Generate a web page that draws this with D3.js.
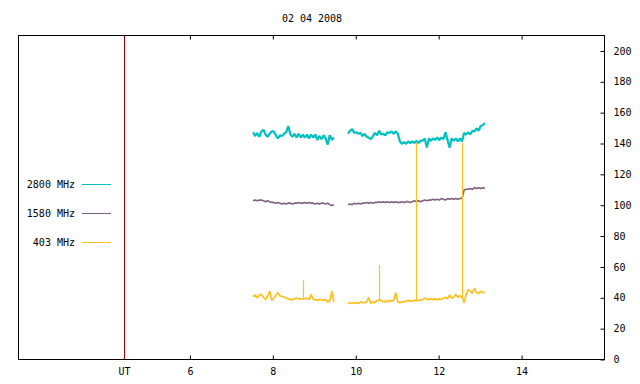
<!DOCTYPE html>
<html>
<head>
<meta charset="utf-8">
<script src="https://cdn.jsdelivr.net/npm/d3@7"></script>
<style>
  html, body { margin: 0; padding: 0; background: #fff; }
  svg { display: block; }
  text { font-family: "DejaVu Sans Mono", monospace; font-size: 10px; fill: #000; }
</style>
</head>
<body>
<svg id="chart" width="640" height="384"></svg>
<script>
// ---------------- data ----------------
const title = "02 04 2008";
const xTicks = [6, 8, 10, 12, 14];
const utMarkHour = 4.42;
const yTicks = [0, 20, 40, 60, 80, 100, 120, 140, 160, 180, 200];
const seriesNames = ["2800 MHz", "1580 MHz", "403 MHz"];
const seriesColors = ["#00c0c0", "#7f6080", "#ffc020"];

// sampling grid (hours UT)
const seg1Start = 7.535, seg2Start = 9.826, sampleStepHr = 0.05;

const f2800a = [147,144.5,146.5,144,147.5,148.5,145.5,144,146,147.5,
  147.5,145,143,145,144.5,146,147,151,145.5,144,
  146,143.5,146,143.5,145.5,143.5,145.5,143,145.5,143.5,
  145.5,142,144.5,142.5,145,143,139,145,142,143.5];
const f2800b = [146,148,149,146.5,147,146,146.5,144.5,146,144,
  143.5,142.5,144.5,146.5,145,148,145.5,146,145,147,
  146.5,147.5,146,147.5,146,141,139.5,140.5,139.5,141,
  140,141,140,141.5,140,141.5,141.5,143,137,143,
  141.5,143,142,143.5,142,143.5,142.5,147,142,137,
  143,141.5,143,141,143,141,146.5,145.5,147,145.5,
  148,147.5,149.5,148,151,151.5,153];

const f1580a = [102.5,103,102.5,103,103,102.5,102,102.5,102,101.5,
  101.5,101,101.5,101,100.5,101,100.5,101,101,100.5,
  101,101,101.5,101,101,101.5,101,101.5,101,101,
  100.5,101,100.5,101,101,100.5,101,100,99.5,100];
const f1580b = [100,100.5,100,101,100.5,101,100.5,101,101,101.5,
  101,101.5,101,101.5,101.5,102,101.5,102,101.5,102,
  101.5,102,101.5,102,101.5,101.5,102,101.5,102,102,
  101.5,102,102.5,102,102.5,102,102.5,103,102.5,103,
  103,103.5,103,103.5,103,104,103.5,103,104,103.5,
  104,103.5,104,103.5,104,104,109.5,110,110,110.5,
  110,111,110.5,111,110.5,111,110.5];

const f403a = [40.5,41.5,39.5,41.5,42,40,38.5,40.5,44,38,
  39.5,41.5,43,41,40.5,40,39.5,39,38.5,38.5,
  39,39.5,39,39,39,39,39.5,38.5,42,38.5,
  38.5,38,38.5,38.5,38,38.5,37,37.5,44,37];
const f403b = [36.5,36,36.5,36,36.5,36,37,36.5,36.5,37,
  40,36,37,36.5,38,38,38,37,37.5,37,
  38,37.5,38,43,37,36.5,37,37,37.5,38,
  37.5,37.5,38,38,38,38,38.5,39.5,39,38.5,
  39,38.5,39,38.5,39,38.5,39.5,40,39,41.5,
  39.5,40,42,40,41,40,36.5,42,45,44,
  42.5,46,43,42.5,44,43,43];

// 403 MHz isolated spikes (hour, base, peak)
const spike403Hours = [8.735, 10.575, 11.476, 12.576];
const spike403Base  = [39, 38, 38, 40];
const spike403Peak  = [51, 61, 140, 140];

// ---------------- chart ----------------
const svg = d3.select("#chart");
const L = 18, R = 604, T = 35, B = 359;

const x = d3.scaleLinear().domain([1.865, 16]).range([L, R]);
const y = d3.scaleLinear().domain([0, 210]).range([B, T]);

function seg(values, start) {
  return values.map((v, i) => ({ t: start + i * sampleStepHr, v }));
}
const series = [
  [seg(f2800a, seg1Start), seg(f2800b, seg2Start)],
  [seg(f1580a, seg1Start), seg(f1580b, seg2Start)],
  [seg(f403a, seg1Start), seg(f403b, seg2Start)]
];
const widths = [2.2, 1.6, 1.7];

const line = d3.line().x(d => x(d.t)).y(d => y(d.v));

// title
svg.append("text").attr("x", 312).attr("y", 18).attr("text-anchor", "middle")
  .attr("dominant-baseline", "central").text(title);

// data lines
series.forEach((segs, k) => {
  segs.forEach(s => {
    svg.append("path").datum(s).attr("d", line)
      .attr("fill", "none").attr("stroke", seriesColors[k])
      .attr("stroke-width", widths[k]).attr("stroke-linejoin", "bevel");
  });
});

// 403 spikes
svg.append("g").selectAll("line").data(spike403Hours).join("line")
  .attr("x1", d => Math.round(x(d)) + 0.5).attr("x2", d => Math.round(x(d)) + 0.5)
  .attr("y1", (d, i) => y(spike403Base[i])).attr("y2", (d, i) => y(spike403Peak[i]))
  .attr("stroke", seriesColors[2]).attr("stroke-width", 1.2);

// UT red marker
svg.append("line").attr("x1", Math.round(x(utMarkHour)) + 0.5).attr("x2", Math.round(x(utMarkHour)) + 0.5)
  .attr("y1", T).attr("y2", B).attr("stroke", "#a00000").attr("stroke-width", 1);

// frame
svg.append("rect").attr("x", L + 0.5).attr("y", T + 0.5).attr("width", R - L).attr("height", B - T)
  .attr("fill", "none").attr("stroke", "#000").attr("stroke-width", 1);

// bottom axis
const gB = svg.append("g").attr("transform", `translate(0.5,${B + 0.5})`)
  .call(d3.axisBottom(x).tickValues(xTicks).tickSize(-4).tickFormat(d3.format("d")).tickPadding(8));
gB.select(".domain").remove();
gB.selectAll(".tick line").attr("stroke", "#000");
gB.selectAll(".tick text").style("font-family", "DejaVu Sans Mono, monospace").style("font-size", "10px");
svg.append("text").attr("x", x(utMarkHour) + 0.5).attr("y", B + 12).attr("text-anchor", "middle")
  .attr("dominant-baseline", "central").text("UT");

// top axis ticks
const gT = svg.append("g").attr("transform", `translate(0.5,${T + 0.5})`)
  .call(d3.axisTop(x).tickValues(xTicks).tickSize(-4).tickFormat(""));
gT.select(".domain").remove();
gT.selectAll(".tick line").attr("stroke", "#000");

// right axis
const gR = svg.append("g").attr("transform", `translate(${R + 0.5},0.5)`)
  .call(d3.axisRight(y).tickValues(yTicks).tickSize(-4).tickPadding(9).tickFormat(d3.format("d")));
gR.select(".domain").remove();
gR.selectAll(".tick line").attr("stroke", "#000");
gR.selectAll(".tick text").style("font-family", "DejaVu Sans Mono, monospace").style("font-size", "10px");

// legend
const legY = [184.5, 213.5, 242.5];
seriesNames.forEach((n, k) => {
  svg.append("text").attr("x", 75).attr("y", legY[k]).attr("text-anchor", "end")
    .attr("dominant-baseline", "central").text(n);
  svg.append("line").attr("x1", 82).attr("x2", 111).attr("y1", legY[k]).attr("y2", legY[k])
    .attr("stroke", seriesColors[k]).attr("stroke-width", 1);
});
</script>
</body>
</html>
